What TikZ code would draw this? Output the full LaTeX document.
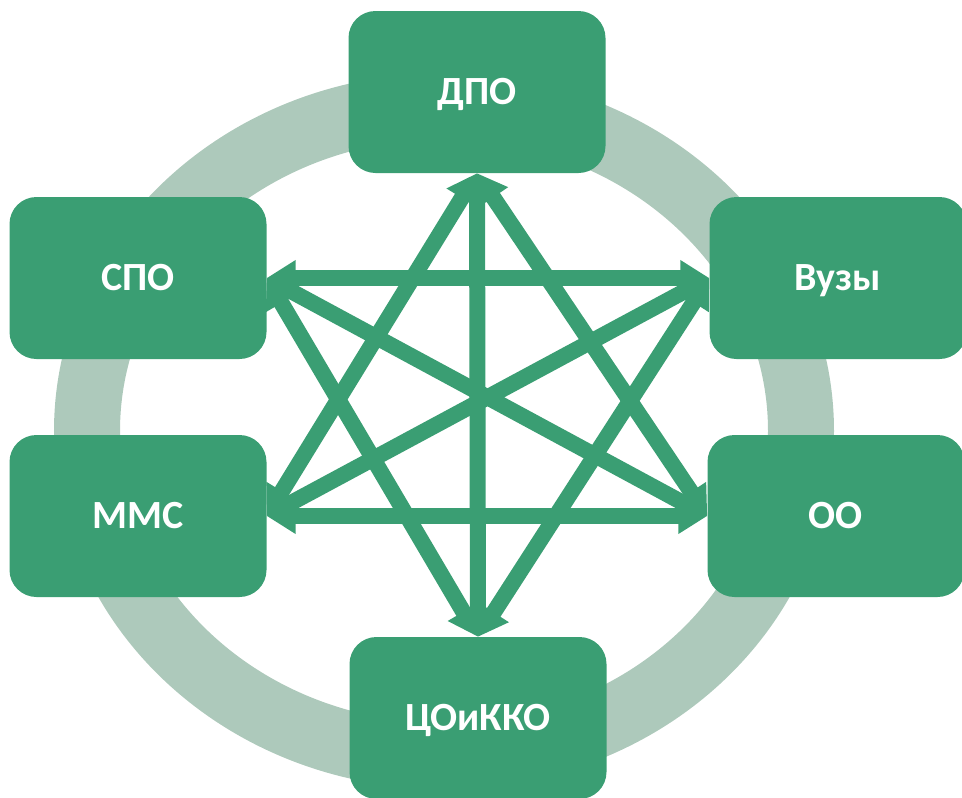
\documentclass[tikz,border=0pt]{standalone}
\usepackage{fontspec}
\setmainfont{Carlito}
\usepackage{tikz}
\usetikzlibrary{arrows.meta}

\definecolor{boxgruen}{RGB}{58,158,115}
\definecolor{ringgruen}{RGB}{173,201,187}

\begin{document}
\begin{tikzpicture}[
  x=1pt, y=-1pt,
  > = {Triangle[length=29pt,width=34pt]},
  box/.style = {fill=boxgruen, rounded corners=27pt, minimum width=257pt, minimum height=162pt,
    text=white, font=\fontsize{40}{48}\selectfont\bfseries, text height=25pt, text depth=0pt},
  link/.style = {<->, draw=boxgruen, line width=16pt}
  ]
	\useasboundingbox (0,0) rectangle (962,798);

	\draw[ringgruen, line width=66pt] (444,431) ellipse [x radius=357, y radius=325];

	\node[box] (dpo) at (477,92)  {ДПО};
	\node[box] (spo) at (138,278) {СПО};
	\node[box] (vuz) at (838,278) {Вузы};
	\node[box] (mms) at (138,516) {ММС};
	\node[box] (oo)  at (836,516) {ОО};
	\node[box] (tso) at (478,718) {ЦОиККО};

	\draw[link] (spo.east) -- (vuz.west);
	\draw[link] (mms.east) -- (oo.west);
	\draw[link] (dpo.south) -- (tso.north);

	\draw[link] (dpo.south) -- (mms.east);
	\draw[link] (dpo.south) -- (oo.west);
	\draw[link] (tso.north) -- (spo.east);
	\draw[link] (tso.north) -- (vuz.west);

	\draw[link] (spo.east) -- (oo.west);
	\draw[link] (mms.east) -- (vuz.west);

\end{tikzpicture}
\end{document}
